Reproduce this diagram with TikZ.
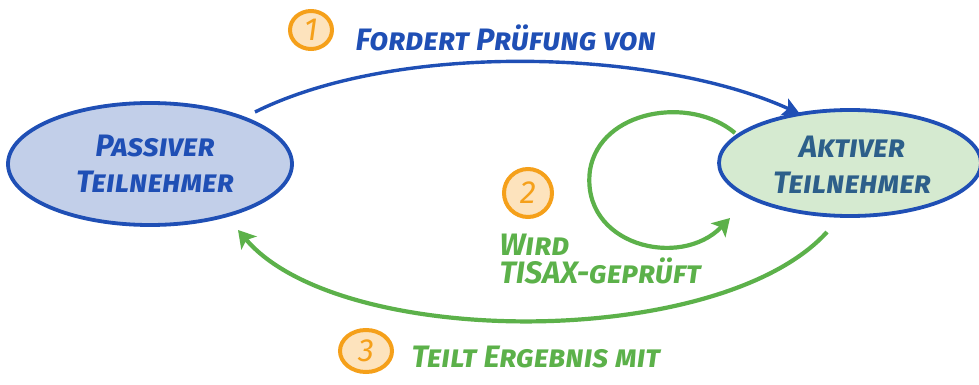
\documentclass[tikz,border=0pt]{standalone}
\usepackage{fontspec}
\setmainfont{Fira Sans}
\usetikzlibrary{arrows.meta,shapes.geometric}
\definecolor{pblue}{HTML}{1F4FB5}
\definecolor{pfill}{HTML}{C2CFE9}
\definecolor{afill}{HTML}{D5EAD0}
\definecolor{ateal}{HTML}{2D5F8A}
\definecolor{lgreen}{HTML}{5CB14A}
\definecolor{orng}{HTML}{F5A01A}
\definecolor{ofill}{HTML}{FDE3BD}
\tikzset{
  hand/.style={font=\bfseries\itshape\addfontfeatures{Letters=SmallCaps}\fontsize{31}{34}\selectfont},
  bubble/.style={ellipse, draw=pblue, line width=3.8pt, inner sep=0pt},
  numc/.style={ellipse, draw=orng, fill=ofill, line width=4pt, text=orng, inner sep=0pt, font=\itshape\fontsize{32}{32}\selectfont},
  barrow/.style={draw=pblue, line width=3.4pt, -{Stealth[length=17pt,width=18pt,inset=4pt]}},
  garrow/.style={draw=lgreen, line width=4.2pt, -{Stealth[length=17pt,width=20pt,inset=4pt]}},
}
\begin{document}
\begin{tikzpicture}[x=1pt,y=-1pt]
\useasboundingbox (0,0) rectangle (979,385);
\node[bubble, fill=pfill, minimum width=284pt, minimum height=122pt] (pass) at (150,164) {};
\node[hand, text=pblue, align=center] (passt) at (155,164) {Passiver\\[2pt]Teilnehmer};
\node[bubble, fill=afill, minimum width=262pt, minimum height=106pt] (akt) at (850,163) {};
\node[hand, text=ateal, align=center] (aktt) at (852,165) {Aktiver\\[2pt]Teilnehmer};

\coordinate (s1) at (255,112);
\coordinate (e1) at (800,114);
\draw[barrow] (s1) .. controls (400,40) and (660,50) .. (e1);

\coordinate (s2) at (735,133);
\coordinate (e2) at (730,218);
\draw[garrow] (s2) .. controls (690,95) and (600,110) .. (590,170) .. controls (580,245) and (680,270) .. (e2);

\coordinate (s3) at (827,232);
\coordinate (e3) at (238,230);
\draw[garrow] (s3) .. controls (720,350) and (340,350) .. (e3);

\node[numc, minimum width=42pt, minimum height=38pt] (n1) at (311,30) {1};
\node[hand, text=pblue, anchor=west] (l1) at (352,38) {Fordert Prüfung von};
\node[numc, minimum width=48pt, minimum height=48pt] (n2) at (528,193) {2};
\node[hand, text=lgreen, anchor=west, align=left] (l2) at (496,259) {Wird\\[-6pt]TISAX-geprüft};
\node[numc, minimum width=52pt, minimum height=42pt] (n3) at (366,351) {3};
\node[hand, text=lgreen, anchor=west] (l3) at (408,357) {Teilt Ergebnis mit};
\end{tikzpicture}
\end{document}
